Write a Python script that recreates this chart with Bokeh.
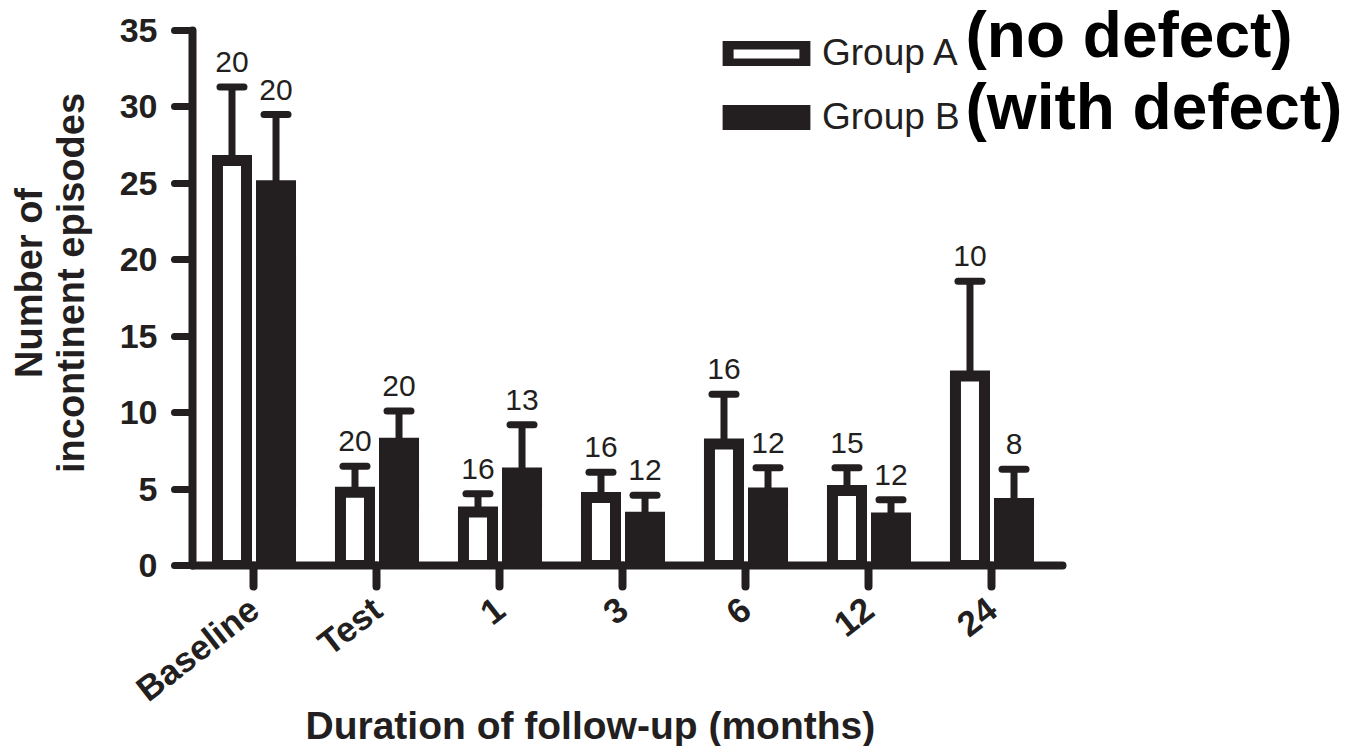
import math
from bokeh.plotting import figure
from bokeh.models import (ColumnDataSource, FixedTicker, Whisker, TeeHead,
                          Legend, LegendItem, Label, Title)
from bokeh.core.properties import value
from bokeh.embed import file_html
from bokeh.resources import INLINE

# ---------------- data ----------------
categories = ["Baseline", "Test", "1", "3", "6", "12", "24"]
group_a_mean = [26.5, 4.8, 3.5, 4.45, 7.95, 4.9, 12.4]
group_a_err = [4.8, 1.7, 1.2, 1.65, 3.25, 1.5, 6.2]
group_a_n = ["20", "20", "16", "16", "16", "15", "10"]
group_b_mean = [24.85, 8.0, 6.05, 3.15, 4.75, 3.1, 4.05]
group_b_err = [4.65, 2.1, 3.15, 1.45, 1.65, 1.2, 2.25]
group_b_n = ["20", "20", "13", "12", "12", "12", "8"]
y_ticks = [0, 5, 10, 15, 20, 25, 30, 35]

DARK = "#231f20"
FONT = "Liberation Sans"
OFFSET = 0.179
BAR_W = 0.236
AXIS_END = 6.573
Y_AXIS_TOP = 35

idx = list(range(len(categories)))
src_a = ColumnDataSource(dict(
    x=[i - OFFSET for i in idx], top=group_a_mean,
    upper=[m + e for m, e in zip(group_a_mean, group_a_err)], n=group_a_n))
src_b = ColumnDataSource(dict(
    x=[i + OFFSET for i in idx], top=group_b_mean,
    upper=[m + e for m, e in zip(group_b_mean, group_b_err)], n=group_b_n))

p = figure(frame_width=1149, frame_height=565,
           x_range=(-0.5, 8.8415), y_range=(0, 36.962),
           output_backend="svg", toolbar_location=None,
           min_border_left=192, min_border_right=0,
           min_border_top=0, min_border_bottom=181)
p.outline_line_color = None
p.xgrid.visible = False
p.ygrid.visible = False
p.background_fill_color = "white"

ra = p.vbar(x="x", top="top", bottom=0, width=BAR_W, source=src_a,
            fill_color="white", line_color=DARK, line_width=11,
            line_join="miter")
rb = p.vbar(x="x", top="top", bottom=0, width=BAR_W, source=src_b,
            fill_color=DARK, line_color=DARK, line_width=11,
            line_join="miter")

for src in (src_a, src_b):
    w = Whisker(base="x", lower="top", upper="upper", source=src,
                line_color=DARK, line_width=7, lower_head=None,
                upper_head=TeeHead(size=24, line_width=7, line_color=DARK,
                                   line_cap="round"))
    p.add_layout(w)
    p.text(x="x", y="upper", text="n", source=src,
           text_font=value(FONT), text_font_size="30px",
           text_align="center", text_baseline="alphabetic",
           y_offset=-25, text_color=DARK)

# ---------------- axes ----------------
for ax in (p.xaxis[0], p.yaxis[0]):
    ax.axis_line_color = DARK
    ax.axis_line_width = 8
    ax.axis_line_cap = "round"
    ax.major_tick_line_color = DARK
    ax.major_tick_in = 0
    ax.major_tick_line_cap = "round"
    ax.minor_tick_line_color = None
    ax.major_label_text_font = FONT
    ax.major_label_text_font_style = "bold"
    ax.major_label_text_color = DARK
    ax.axis_label_text_font = FONT
    ax.axis_label_text_font_style = "bold"
    ax.axis_label_text_color = DARK

p.yaxis.bounds = (0, Y_AXIS_TOP)
p.yaxis.ticker = FixedTicker(ticks=y_ticks)
p.yaxis.major_tick_out = 18
p.yaxis.major_tick_line_width = 7
p.yaxis.major_label_standoff = 17
p.yaxis.major_label_text_font_size = "34px"
p.yaxis.axis_label = "Number of\nincontinent episodes"
p.yaxis.axis_label_text_font_size = "38px"
p.yaxis.axis_label_text_line_height = 1.0
p.yaxis.axis_label_standoff = 25

p.xaxis.bounds = (-0.5, AXIS_END)
p.xaxis.ticker = FixedTicker(ticks=idx)
p.xaxis.major_label_overrides = {i: c for i, c in zip(idx, categories)}
p.xaxis.major_label_orientation = math.radians(38)
p.xaxis.major_label_text_font_size = "35px"
p.xaxis.major_tick_out = 21
p.xaxis.major_tick_line_width = 8
p.xaxis.major_label_standoff = 18

p.add_layout(Title(text="Duration of follow-up (months)", align="left",
                   offset=113, standoff=-46, vertical_align="top",
                   text_font=FONT, text_font_size="39px",
                   text_font_style="bold", text_color=DARK), "below")

# ---------------- legend ----------------
legend = Legend(items=[LegendItem(label="Group A", renderers=[ra]),
                       LegendItem(label="Group B", renderers=[rb])],
                location=(526, 427), orientation="vertical",
                glyph_width=96, glyph_height=25, label_height=40,
                spacing=22, padding=0, margin=0, label_standoff=8,
                border_line_color=None, background_fill_alpha=0,
                label_text_font=FONT, label_text_font_size="37px",
                label_text_color=DARK)
p.add_layout(legend)

for txt, yy in (("(no defect)", 34.73), ("(with defect)", 30.02)):
    p.add_layout(Label(x=5.785, y=yy, text=txt, text_font=FONT,
                       text_font_style="bold", text_font_size="64px",
                       text_baseline="alphabetic", text_color="black"))

open("out.html", "w").write(file_html(p, INLINE))
